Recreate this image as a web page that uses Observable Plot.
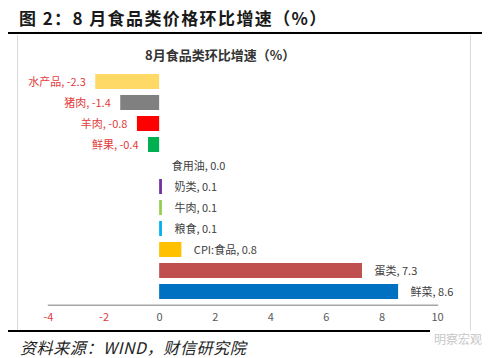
<!DOCTYPE html>
<html>
<head>
<meta charset="utf-8">
<script src="https://cdn.jsdelivr.net/npm/d3@7"></script>
<script src="https://cdn.jsdelivr.net/npm/@observablehq/plot@0.6"></script>
<style>
  html, body { margin: 0; padding: 0; background: #fff; }
  body { width: 500px; height: 358px; position: relative; overflow: hidden;
         font-family: "Noto Sans CJK SC", "Noto Sans", sans-serif; }
  #title { position: absolute; left: 19px; top: 5px; font-size: 17px; line-height: 26px; font-weight: bold;
           color: #1a1a1a; letter-spacing: 1.4px; white-space: nowrap; }
  #topline { position: absolute; left: 8px; top: 32px; width: 474px; height: 2px; background: #000; }
  #box { position: absolute; left: 17px; top: 35px; width: 454px; height: 295px;
         border-left: 1.5px solid #d9d9d9; border-right: 1.5px solid #d9d9d9; box-sizing: border-box; }
  #chart { position: absolute; left: 18px; top: 35px; }
  #ctitle { position: absolute; left: 145px; top: 45px; font-size: 13px; line-height: 20px; font-weight: 600;
            color: #333; white-space: nowrap; }
  #botline { position: absolute; left: 8px; top: 330px; width: 422px; height: 2px; background: #000; }
  #wm { position: absolute; left: 434px; top: 331px; font-size: 12px; line-height: 16px; color: #c8c8c8; white-space: nowrap; }
  #source { position: absolute; left: 20px; top: 337px; font-size: 16px; line-height: 20px; font-style: italic;
            color: #222; white-space: nowrap; letter-spacing: 0.6px; }
</style>
</head>
<body>
<div id="title">图 2：8 月食品类价格环比增速（%）</div>
<div id="topline"></div>
<div id="box"></div>
<div id="chart"></div>
<div id="ctitle">8月食品类环比增速（%）</div>
<div id="botline"></div>
<div id="wm">明察宏观</div>
<div id="source">资料来源：WIND，财信研究院</div>
<script>
const categories = ["水产品", "猪肉", "羊肉", "鲜果", "食用油", "奶类", "牛肉", "粮食", "CPI:食品", "蛋类", "鲜菜"];
const values = [-2.3, -1.4, -0.8, -0.4, 0.0, 0.1, 0.1, 0.1, 0.8, 7.3, 8.6];
const barColors = ["#FFD966", "#808080", "#FF0000", "#00B050", "#FFFFFF", "#7030A0", "#92D050", "#00B0F0", "#FFC000", "#C0504D", "#0070C0"];
const xTicks = [-4, -2, 0, 2, 4, 6, 8, 10];

const data = categories.map((c, i) => ({cat: c, value: values[i], color: barColors[i]}));
const neg = data.filter(d => d.value < 0);
const pos = data.filter(d => d.value >= 0);
const fmt = d => `${d.cat}, ${d.value.toFixed(1)}`;

const chart = Plot.plot({
  width: 454,
  height: 296,
  marginLeft: 30,
  marginRight: 35,
  marginTop: 33.25,
  marginBottom: 26.25,
  style: {fontFamily: "'Noto Sans CJK SC', 'Noto Sans', sans-serif", fontSize: "11px", background: "transparent"},
  x: {domain: [-4, 10], axis: null},
  y: {domain: categories, paddingInner: 0.3, paddingOuter: 0.15, axis: null},
  color: {type: "identity"},
  marks: [
    Plot.barX(data, {x: "value", y: "cat", fill: "color"}),
    Plot.frame({anchor: "bottom", stroke: "#a6a6a6", strokeWidth: 1.5}),
    Plot.vectorY(xTicks, {x: d => d, frameAnchor: "bottom", length: 4, anchor: "start", stroke: "#a6a6a6", strokeWidth: 1.2}),
    Plot.text(xTicks, {x: d => d, frameAnchor: "bottom", dy: 16, text: d => String(d),
      fill: d => d < 0 ? "#e03c3c" : "#595959", fontSize: 11}),
    Plot.text(neg, {x: "value", y: "cat", text: fmt, textAnchor: "end", dx: -10, fill: "#e03c3c", fontSize: 11}),
    Plot.text(pos, {x: "value", y: "cat", text: fmt, textAnchor: "start", dx: 12, fill: "#404040", fontSize: 11})
  ]
});
document.getElementById("chart").appendChild(chart);
</script>
</body>
</html>
